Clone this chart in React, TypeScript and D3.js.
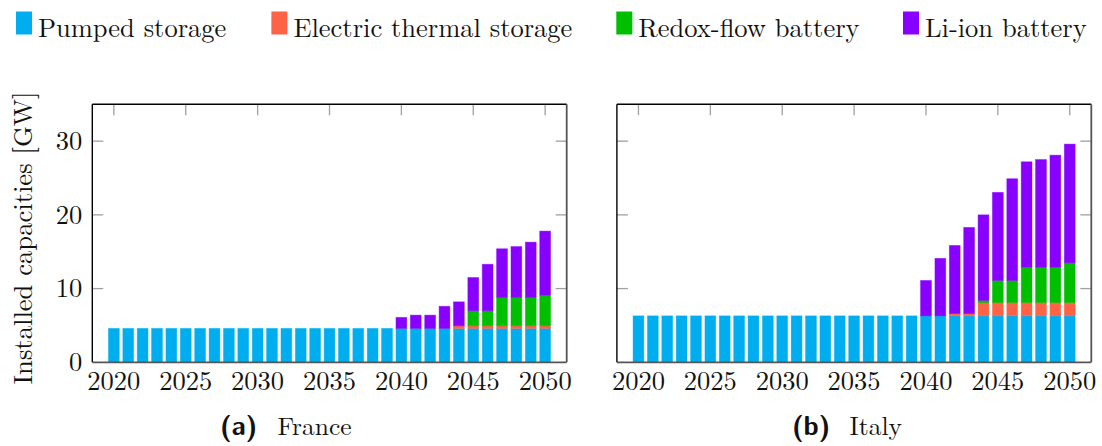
import React from "react";
import * as d3 from "d3";

const years = d3.range(2020, 2051);
const seriesNames = ["Pumped storage", "Electric thermal storage", "Redox-flow battery", "Li-ion battery"];
const seriesColors = ["#00AEEF", "#FF6347", "#00BE00", "#8800FF"];
const yTicks = [0, 10, 20, 30];
const xTicks = [2020, 2025, 2030, 2035, 2040, 2045, 2050];

// France (2020..2050)
const frPumped = [4.6, 4.6, 4.6, 4.6, 4.6, 4.6, 4.6, 4.6, 4.6, 4.6, 4.6, 4.6, 4.6, 4.6, 4.6, 4.6, 4.6, 4.6, 4.6, 4.6, 4.6, 4.6, 4.6, 4.6, 4.6, 4.6, 4.6, 4.6, 4.6, 4.6, 4.6];
const frThermal = [0, 0, 0, 0, 0, 0, 0, 0, 0, 0, 0, 0, 0, 0, 0, 0, 0, 0, 0, 0, 0, 0, 0, 0, 0.35, 0.35, 0.35, 0.35, 0.35, 0.35, 0.35];
const frRedox = [0, 0, 0, 0, 0, 0, 0, 0, 0, 0, 0, 0, 0, 0, 0, 0, 0, 0, 0, 0, 0, 0, 0, 0, 0, 2.05, 2.05, 3.85, 3.85, 3.85, 4.15];
const frLiion = [0, 0, 0, 0, 0, 0, 0, 0, 0, 0, 0, 0, 0, 0, 0, 0, 0, 0, 0, 0, 1.5, 1.8, 1.8, 3.0, 3.25, 4.5, 6.3, 6.6, 6.9, 7.5, 8.7];

// Italy (2020..2050)
const itPumped = [6.3, 6.3, 6.3, 6.3, 6.3, 6.3, 6.3, 6.3, 6.3, 6.3, 6.3, 6.3, 6.3, 6.3, 6.3, 6.3, 6.3, 6.3, 6.3, 6.3, 6.3, 6.3, 6.3, 6.3, 6.3, 6.3, 6.3, 6.3, 6.3, 6.3, 6.3];
const itThermal = [0, 0, 0, 0, 0, 0, 0, 0, 0, 0, 0, 0, 0, 0, 0, 0, 0, 0, 0, 0, 0, 0, 0.3, 0.3, 1.8, 1.8, 1.8, 1.8, 1.8, 1.8, 1.8];
const itRedox = [0, 0, 0, 0, 0, 0, 0, 0, 0, 0, 0, 0, 0, 0, 0, 0, 0, 0, 0, 0, 0, 0, 0, 0, 0.3, 3.0, 3.0, 4.8, 4.8, 4.8, 5.4];
const itLiion = [0, 0, 0, 0, 0, 0, 0, 0, 0, 0, 0, 0, 0, 0, 0, 0, 0, 0, 0, 0, 4.8, 7.8, 9.25, 11.7, 11.6, 11.95, 13.8, 14.3, 14.6, 15.2, 16.1];

const SERIF: React.CSSProperties = { fontFamily: "Latin Modern Roman" };
const SANS: React.CSSProperties = { fontFamily: "Latin Modern Sans", fontWeight: 700 };

type PanelProps = {
  left: number;
  series: number[][];
  showYLabels: boolean;
  capLetter: string;
  capName: string;
  capX: number;
};

function Panel({ left, series, showYLabels, capLetter, capName, capX }: PanelProps) {
  const top = 104.3;
  const width = 474.4;
  const height = 258;
  const x = d3.scaleLinear().domain([2018.5, 2051.5]).range([left, left + width]);
  const y = d3.scaleLinear().domain([0, 35]).range([top + height, top]);
  const rows = years.map((yr, i) => {
    const r: any = { year: yr };
    seriesNames.forEach((n, k) => (r[n] = series[k][i]));
    return r;
  });
  const stacked = d3.stack<any>().keys(seriesNames)(rows);
  const bw = 10.8;
  const tickLen = 11;
  const tickColor = "#a0a0a0";
  return (
    <g>
      {yTicks.filter((t) => t > 0).map((t) => (
        <g key={"yt" + t}>
          <line x1={left} x2={left + tickLen} y1={y(t)} y2={y(t)} stroke={tickColor} strokeWidth={1.3} />
          <line x1={left + width - tickLen} x2={left + width} y1={y(t)} y2={y(t)} stroke={tickColor} strokeWidth={1.3} />
        </g>
      ))}
      {xTicks.map((t) => (
        <g key={"xt" + t}>
          <line x1={x(t)} x2={x(t)} y1={top} y2={top + tickLen} stroke={tickColor} strokeWidth={1.3} />
          <line x1={x(t)} x2={x(t)} y1={top + height - tickLen} y2={top + height} stroke={tickColor} strokeWidth={1.3} />
        </g>
      ))}
      {stacked.map((layer, k) => (
        <g key={layer.key} fill={seriesColors[k]}>
          {layer.map((d, i) =>
            d[1] - d[0] > 0 ? (
              <rect
                key={i}
                x={x(d.data.year) - bw / 2}
                y={y(d[1])}
                width={bw}
                height={y(d[0]) - y(d[1])}
                stroke={seriesColors[k]}
                strokeOpacity={0.55}
                strokeWidth={0.8}
              />
            ) : null
          )}
        </g>
      ))}
      <line x1={left} x2={left + width} y1={top} y2={top} stroke="#000" strokeWidth={1.4} />
      <line x1={left} x2={left} y1={top} y2={top + height} stroke="#000" strokeWidth={1.4} />
      <line x1={left + width} x2={left + width} y1={top} y2={top + height} stroke="#555" strokeWidth={1.8} />
      <line x1={left} x2={left + width} y1={top + height} y2={top + height} stroke="#555" strokeWidth={1.8} />
      {showYLabels &&
        yTicks.map((t) => (
          <text key={"yl" + t} x={left - 10} y={y(t)} dy="0.33em" textAnchor="end" style={SERIF} fontSize={26.5} fill="#111">
            {t}
          </text>
        ))}
      {xTicks.map((t) => (
        <text key={"xl" + t} x={x(t)} y={390} textAnchor="middle" style={SERIF} fontSize={26.5} fill="#111">
          {t}
        </text>
      ))}
      <text x={capX} y={434.5} style={SANS} fontSize={27} fill="#111">
        {capLetter}
      </text>
      <text x={capX + 57.5} y={434.5} style={SERIF} fontSize={25.5} fill="#111">
        {capName}
      </text>
    </g>
  );
}

export default function App() {
  const legendX = [16, 271.4, 616.3, 903];
  return (
    <svg width={1102} height={446} style={{ position: "absolute", left: 0, top: 0, background: "#fff" }}>
      <rect width={1102} height={446} fill="#fff" />
      {seriesNames.map((n, k) => (
        <g key={n}>
          <rect x={legendX[k]} y={11.5} width={16} height={23} fill={seriesColors[k]} />
          <text x={legendX[k] + 22} y={37} style={SERIF} fontSize={26.5} fill="#111">
            {n}
          </text>
        </g>
      ))}
      <text transform="translate(32,238) rotate(-90)" textAnchor="middle" style={SERIF} fontSize={26.6} fill="#111">
        Installed capacities [GW]
      </text>
      <Panel left={92.3} series={[frPumped, frThermal, frRedox, frLiion]} showYLabels={true} capLetter="(a)" capName="France" capX={220} />
      <Panel left={616.9} series={[itPumped, itThermal, itRedox, itLiion]} showYLabels={false} capLetter="(b)" capName="Italy" capX={792} />
    </svg>
  );
}
